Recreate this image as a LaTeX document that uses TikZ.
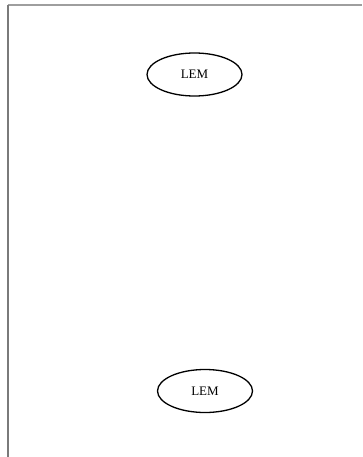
\documentclass[tikz,border=0pt]{standalone}
\usepackage{fontspec}
\setmainfont{Liberation Serif}
\usetikzlibrary{shapes.geometric}
\tikzstyle{lem} = [ellipse, draw, line width=1.3pt, minimum width=95pt, minimum height=43pt, inner sep=0pt, font=\fontsize{13}{15}\selectfont]
\tikzstyle{frametop} = [draw, line width=2pt, color=black!38]
\tikzstyle{frameleft} = [draw, line width=2pt, color=black!52]

\begin{document}
\begin{tikzpicture}[x=1pt, y=-1pt]
    \useasboundingbox (0,0) rectangle (362,457);
    % Draw frame
    \coordinate (topleft) at (7.5,5);
    \coordinate (topright) at (362,5);
    \coordinate (bottomleft) at (7.5,457);
    \path [frametop] (topleft) -- (topright);
    \path [frameleft] (topleft) -- (bottomleft);
    % Place nodes
    \node [lem] (lemTop) at (194.5,74.5) {LEM};
    \node [lem] (lemBottom) at (205,391) {LEM};
\end{tikzpicture}
\end{document}
